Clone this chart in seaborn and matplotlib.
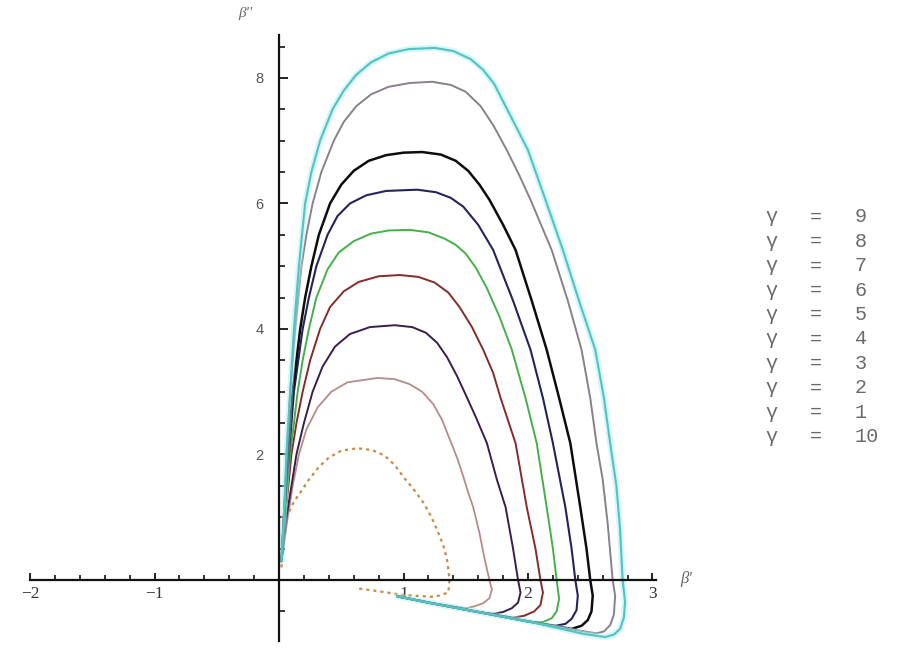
import matplotlib
matplotlib.use("Agg")
import matplotlib.pyplot as plt
from matplotlib.ticker import FixedLocator
import seaborn as sns
import pandas as pd

# ---- curve data: (beta', beta'') trajectories -------------------------------
cyan_x = [0.02, 0.04, 0.06, 0.09, 0.12, 0.16, 0.185, 0.21, 0.26, 0.33, 0.43, 0.52, 0.62,
          0.74, 0.88, 1.04, 1.25, 1.40, 1.54, 1.64, 1.73, 1.82, 1.91, 2.00, 2.14, 2.28,
          2.41, 2.54, 2.61, 2.66, 2.71, 2.74, 2.76, 2.78, 2.77, 2.74, 2.69, 2.62, 2.45,
          2.00, 1.60, 1.20, 0.95]
cyan_y = [0.30, 1.00, 2.00, 3.00, 4.00, 5.00, 5.50, 6.00, 6.50, 7.00, 7.50, 7.80, 8.05,
          8.25, 8.39, 8.46, 8.48, 8.43, 8.30, 8.13, 7.90, 7.55, 7.20, 6.85, 6.06, 5.26,
          4.45, 3.67, 2.90, 2.18, 1.50, 0.80, 0.00, -0.35, -0.60, -0.78, -0.87, -0.91, -0.86,
          -0.66, -0.51, -0.36, -0.26]

gray_x = [0.02, 0.04, 0.06, 0.09, 0.13, 0.18, 0.22, 0.27, 0.34, 0.44, 0.52, 0.62, 0.74,
          0.88, 1.05, 1.23, 1.38, 1.50, 1.62, 1.72, 1.83, 1.93, 2.02, 2.19, 2.32, 2.43,
          2.50, 2.55, 2.60, 2.64, 2.68, 2.70, 2.69, 2.66, 2.61, 2.55, 2.30, 2.00, 1.60,
          1.20, 0.95]
gray_y = [0.30, 1.00, 2.00, 3.00, 4.00, 5.00, 5.50, 6.00, 6.50, 7.00, 7.30, 7.55, 7.74,
          7.86, 7.92, 7.94, 7.89, 7.78, 7.55, 7.25, 6.85, 6.45, 6.06, 5.26, 4.45, 3.67,
          2.90, 2.18, 1.60, 0.90, 0.00, -0.25, -0.55, -0.72, -0.82, -0.85, -0.77, -0.66, -0.51,
          -0.36, -0.26]

black_x = [0.02, 0.04, 0.07, 0.11, 0.17, 0.21, 0.26, 0.32, 0.41, 0.50, 0.60, 0.72, 0.86,
           1.00, 1.15, 1.30, 1.42, 1.52, 1.61, 1.69, 1.80, 1.90, 2.03, 2.15, 2.25, 2.34,
           2.42, 2.47, 2.50, 2.52, 2.51, 2.48, 2.43, 2.35, 2.00, 1.60, 1.20, 0.95]
black_y = [0.30, 1.00, 2.00, 3.00, 4.00, 4.50, 5.00, 5.50, 6.00, 6.30, 6.52, 6.68, 6.77,
           6.81, 6.82, 6.78, 6.68, 6.52, 6.30, 6.06, 5.66, 5.26, 4.45, 3.67, 2.90, 2.18,
           1.16, 0.50, 0.00, -0.25, -0.50, -0.64, -0.73, -0.78, -0.66, -0.51, -0.36, -0.26]

navy_x = [0.02, 0.04, 0.08, 0.12, 0.19, 0.24, 0.30, 0.39, 0.47, 0.57, 0.70, 0.86, 1.11,
          1.26, 1.38, 1.48, 1.60, 1.72, 1.88, 2.02, 2.12, 2.20, 2.30, 2.35, 2.38, 2.40,
          2.39, 2.35, 2.30, 2.22, 2.00, 1.60, 1.20, 0.95]
navy_y = [0.30, 1.00, 2.00, 3.00, 4.00, 4.50, 5.00, 5.50, 5.80, 6.00, 6.13, 6.20, 6.22,
          6.18, 6.09, 5.95, 5.66, 5.26, 4.45, 3.67, 2.90, 2.18, 1.16, 0.50, 0.00, -0.25,
          -0.48, -0.62, -0.70, -0.73, -0.66, -0.51, -0.36, -0.26]

green_x = [0.02, 0.05, 0.09, 0.15, 0.19, 0.24, 0.30, 0.39, 0.48, 0.60, 0.74, 0.88, 1.05,
           1.20, 1.33, 1.42, 1.50, 1.58, 1.67, 1.77, 1.87, 1.98, 2.07, 2.15, 2.20, 2.23,
           2.25, 2.23, 2.19, 2.12, 2.02, 1.60, 1.20, 0.95]
green_y = [0.30, 1.00, 2.00, 3.00, 3.50, 4.00, 4.50, 4.95, 5.22, 5.40, 5.52, 5.57, 5.58,
           5.54, 5.44, 5.34, 5.20, 4.98, 4.65, 4.20, 3.67, 2.90, 2.18, 1.16, 0.50, 0.00,
           -0.30, -0.50, -0.61, -0.67, -0.67, -0.51, -0.36, -0.26]

red_x = [0.02, 0.05, 0.10, 0.14, 0.19, 0.25, 0.33, 0.41, 0.52, 0.64, 0.80, 0.97,
         1.12, 1.25, 1.36, 1.45, 1.55, 1.64, 1.72, 1.78, 1.90, 1.99, 2.06, 2.10,
         2.12, 2.10, 2.05, 1.97, 1.88, 1.60, 1.20, 0.95]
red_y = [0.30, 1.00, 2.00, 2.50, 3.00, 3.50, 4.00, 4.35, 4.60, 4.75, 4.84, 4.86,
         4.83, 4.74, 4.58, 4.35, 4.03, 3.67, 3.30, 2.90, 2.18, 1.16, 0.50, 0.00,
         -0.20, -0.40, -0.50, -0.57, -0.60, -0.51, -0.36, -0.26]

indigo_x = [0.02, 0.06, 0.10, 0.14, 0.20, 0.27, 0.35, 0.45, 0.57, 0.73, 0.93,
            1.07, 1.18, 1.27, 1.35, 1.43, 1.50, 1.58, 1.67, 1.75, 1.82, 1.88, 1.92,
            1.94, 1.92, 1.87, 1.80, 1.72, 1.60, 1.20, 0.95]
indigo_y = [0.30, 1.00, 1.50, 2.00, 2.50, 3.00, 3.40, 3.72, 3.92, 4.03, 4.06,
            4.03, 3.94, 3.78, 3.55, 3.25, 2.95, 2.60, 2.18, 1.60, 1.16, 0.50, 0.00,
            -0.20, -0.36, -0.45, -0.51, -0.54, -0.51, -0.36, -0.26]

pink_x = [0.02, 0.07, 0.11, 0.16, 0.22, 0.31, 0.42, 0.55, 0.79,
          0.93, 1.05, 1.15, 1.24, 1.31, 1.37, 1.43, 1.48, 1.52, 1.56, 1.61, 1.65, 1.69,
          1.71, 1.69, 1.64, 1.57, 1.50, 1.20, 0.95]
pink_y = [0.30, 1.00, 1.50, 2.00, 2.40, 2.75, 3.00, 3.15, 3.22,
          3.20, 3.12, 3.00, 2.80, 2.55, 2.25, 1.95, 1.65, 1.39, 1.16, 0.75, 0.35, 0.00,
          -0.15, -0.29, -0.37, -0.42, -0.45, -0.36, -0.26]

orange_x = [0.02, 0.03, 0.06, 0.12, 0.17, 0.24, 0.32, 0.40, 0.50, 0.63, 0.75, 0.85, 0.93,
            1.00, 1.08, 1.16, 1.22, 1.27, 1.32, 1.35, 1.37, 1.36, 1.25, 1.00, 0.80, 0.62]
orange_y = [0.20, 0.60, 1.00, 1.25, 1.39, 1.60, 1.80, 1.95, 2.06, 2.10, 2.07, 1.98, 1.83,
            1.64, 1.45, 1.23, 1.02, 0.80, 0.55, 0.32, 0.00, -0.20, -0.27, -0.24, -0.18, -0.13]

legend_values = ["9", "8", "7", "6", "5", "4", "3", "2", "1", "10"]

x_major = [-2, -1, 1, 2, 3]
x_major_labels = ["\u22122", "\u22121", "1", "2", "3"]
y_major = [2, 4, 6, 8]
y_major_labels = ["2", "4", "6", "8"]

# minor tick positions, kept inside the drawn axis segments
x_minor = [round(-2 + 0.2 * k, 2) for k in range(26) if k % 5 != 0]
y_minor = [round(-0.5 + 0.5 * k, 2) for k in range(19) if (-0.5 + 0.5 * k) % 2 != 0]

# ---- figure ------------------------------------------------------------------
sns.set_style("white")
fig = plt.figure(figsize=(9.01, 6.49), dpi=100)
ax = fig.add_axes([0, 0, 1, 1])
ax.set_xlim(-2.241, 4.996)
ax.set_ylim(-1.10, 9.243)

curves = [
    (orange_x, orange_y, "#c98a45", 1.6, (0, (1.4, 1.8))),
    (pink_x, pink_y, "#b98a8a", 1.3, "-"),
    (indigo_x, indigo_y, "#3a1d4e", 1.4, "-"),
    (red_x, red_y, "#842b2b", 1.4, "-"),
    (green_x, green_y, "#44b04a", 1.4, "-"),
    (navy_x, navy_y, "#23235e", 1.5, "-"),
    (black_x, black_y, "#0d0d0d", 1.8, "-"),
    (gray_x, gray_y, "#8a808c", 1.4, "-"),
]
for xs, ys, col, lw, ls in curves:
    df = pd.DataFrame({"bp": xs, "bpp": ys})
    sns.lineplot(data=df, x="bp", y="bpp", sort=False, estimator=None,
                 color=col, lw=lw, linestyle=ls, ax=ax)

# outermost trajectory with its soft halo
cdf = pd.DataFrame({"bp": cyan_x, "bpp": cyan_y})
sns.lineplot(data=cdf, x="bp", y="bpp", sort=False, estimator=None,
             color="#a6ecef", lw=4.5, alpha=0.45, ax=ax)
sns.lineplot(data=cdf, x="bp", y="bpp", sort=False, estimator=None,
             color="#52c2c2", lw=1.5, ax=ax)

ax.set_xlabel("")
ax.set_ylabel("")

# ---- axes through the origin ------------------------------------------------
for side in ("top", "right"):
    ax.spines[side].set_visible(False)
for side in ("left", "bottom"):
    ax.spines[side].set_visible(True)
    ax.spines[side].set_position(("data", 0))
    ax.spines[side].set_color("#111111")
    ax.spines[side].set_linewidth(1.6)
ax.spines["bottom"].set_bounds(-2.0, 3.03)
ax.spines["left"].set_bounds(-0.97, 8.68)

ax.xaxis.set_major_locator(FixedLocator(x_major))
ax.xaxis.set_minor_locator(FixedLocator(x_minor))
ax.set_xticklabels(x_major_labels)
ax.yaxis.set_major_locator(FixedLocator(y_major))
ax.yaxis.set_minor_locator(FixedLocator(y_minor))
ax.set_yticklabels(y_major_labels)

ax.tick_params(which="both", bottom=True, left=True, top=False, right=False)
ax.tick_params(axis="x", which="major", direction="in", length=5, width=1.3,
               color="#111111", pad=4, labelsize=12.5, labelcolor="#333333")
ax.tick_params(axis="x", which="minor", direction="in", length=3.5, width=1.2,
               color="#111111")
ax.tick_params(axis="y", which="major", direction="in", length=6.5, width=1.3,
               color="#111111", pad=11, labelsize=10.5, labelcolor="#555555")
ax.tick_params(axis="y", which="minor", direction="in", length=4.5, width=1.2,
               color="#111111")
for lab in ax.get_xticklabels():
    lab.set_fontfamily(["Liberation Serif", "DejaVu Serif"])
for lab in ax.get_yticklabels():
    lab.set_fontfamily(["Liberation Sans", "DejaVu Sans"])

# axis names
ax.text(-0.27, 9.02, "\u03b2''", fontsize=11, fontstyle="italic", color="#666666",
        family=["Liberation Serif", "DejaVu Serif"], ha="center", va="center")
ax.text(3.27, 0.02, "\u03b2'", fontsize=12, fontstyle="italic", color="#666666",
        family=["Liberation Serif", "DejaVu Serif"], ha="center", va="center")

# ---- text legend ---------------------------------------------------------------
row0 = 217
step = 24.4
for i, v in enumerate(legend_values):
    ypix = 649 - (row0 + i * step)
    yfrac = ypix / 649
    for xpix, s, ha in ((772, "\u03b3", "center"), (816, "=", "center"), (855, v, "left")):
        fig.text(xpix / 901, yfrac, s, fontsize=14.5, color="#6a6a6a",
                 family=["Liberation Mono", "DejaVu Sans Mono"], ha=ha, va="center")

fig.savefig("out.png", dpi=100)
